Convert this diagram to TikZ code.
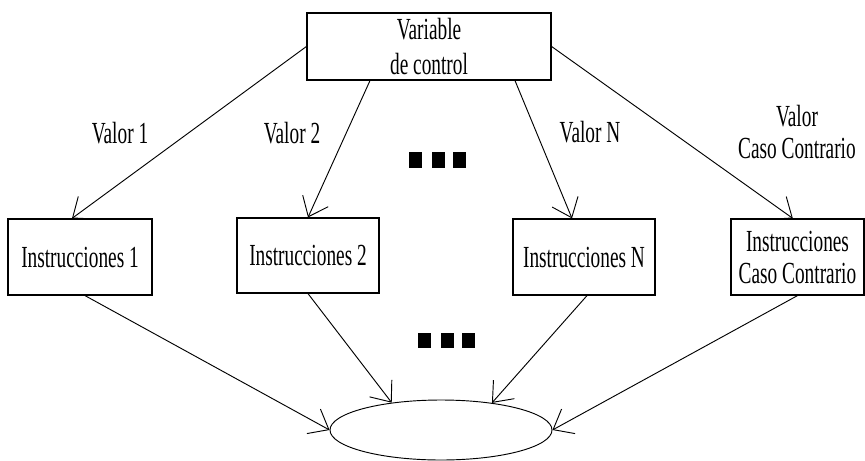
\documentclass[tikz,border=0pt]{standalone}
\usepackage{fontspec}
\setmainfont{Liberation Serif}[FakeStretch=0.63]
\usetikzlibrary{shapes.geometric,arrows.meta}
\tikzset{
	caja/.style={draw, line width=0.9pt, inner sep=0pt, align=center, font=\fontsize{23}{24}\selectfont},
	flecha/.style={line width=0.7pt, -{Straight Barb[length=13pt,width=21pt,line width=0.7pt]}},
	etiqueta/.style={inner sep=0pt, align=center, font=\fontsize{23}{24}\selectfont},
	punto/.style={fill=black, inner sep=0pt, minimum width=9.75pt, minimum height=11.5pt}
}
\begin{document}
\begin{tikzpicture}[x=0.75pt, y=-0.75pt]
			\useasboundingbox (0,0) rectangle (865,461);
			% cajas
			\node[caja, minimum width=183pt, minimum height=50.25pt, font=\fontsize{23}{26}\selectfont] (var) at (429,46.5) {Variable\\de control};
			\node[caja, minimum width=108pt, minimum height=57pt] (i1) at (80,257) {Instrucciones 1};
			\node[caja, minimum width=106.5pt, minimum height=56.25pt] (i2) at (308,255.5) {Instrucciones 2};
			\node[caja, minimum width=106.5pt, minimum height=57pt] (iN) at (584,257) {Instrucciones N};
			\node[caja, minimum width=99.75pt, minimum height=57pt] (cc) at (797.5,257) {Instrucciones\\Caso Contrario};
			\node[draw, ellipse, line width=0.7pt, minimum width=166.5pt, minimum height=45pt] (fin) at (441,430) {};
			% etiquetas
			\node[etiqueta] (et1) at (120,133) {Valor 1};
			\node[etiqueta] (et2) at (292,133) {Valor 2};
			\node[etiqueta] (etN) at (590,132) {Valor N};
			\node[etiqueta] (etC) at (797,132) {Valor\\Caso Contrario};
			% puntos
			\foreach \i/\x in {1/415.5,2/438.5,3/459.5} {
				\node[punto] (pa\i) at (\x,160) {};
				\node[punto] (pb\i) at (\x+9,340.5) {};
			}
			% flechas
			\draw[flecha] (var.west) -- ([xshift=-6pt]i1.north);
			\draw[flecha] ([xshift=-44.25pt]var.south) -- (i2.north);
			\draw[flecha] ([xshift=64.5pt]var.south) -- ([xshift=-9pt]iN.north);
			\draw[flecha] (var.east) -- ([xshift=-3.5pt]cc.north);
			\draw[flecha] ([xshift=3.75pt]i1.south) -- (fin.west);
			\draw[flecha] (i2.south) -- (fin.151);
			\draw[flecha] ([xshift=2.25pt]iN.south) -- (fin.28);
			\draw[flecha] (cc.south) -- (fin.east);
		\end{tikzpicture}
\end{document}
